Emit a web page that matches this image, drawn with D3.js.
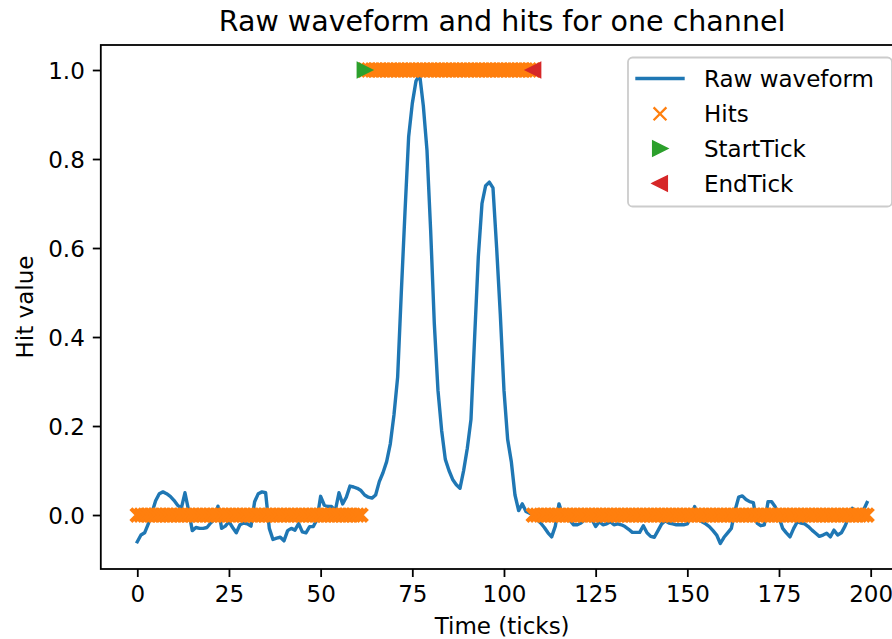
<!DOCTYPE html>
<html>
<head>
<meta charset="utf-8">
<script src="https://cdn.jsdelivr.net/npm/d3@7"></script>
<style>
  html, body { margin: 0; padding: 0; background: #fff; overflow: hidden; }
  svg { display: block; font-family: "DejaVu Sans", sans-serif; }
</style>
</head>
<body>
<svg id="chart" width="892" height="639"></svg>
<script>
// ---- Data ----
// Raw waveform, one sample per tick, ticks 0..199
const waveform = [
  -0.060, -0.045, -0.040, -0.020, 0.005, 0.032, 0.048, 0.052, 0.048, 0.042,
  0.033, 0.022, 0.015, 0.050, 0.010, -0.035, -0.028, -0.030, -0.030, -0.028,
  -0.018, -0.010, 0.020, -0.030, -0.025, -0.015, -0.028, -0.040, -0.022, -0.018,
  -0.020, -0.025, 0.030, 0.048, 0.052, 0.050, -0.030, -0.055, -0.052, -0.050,
  -0.058, -0.035, -0.030, -0.034, -0.019, -0.038, -0.040, -0.026, -0.026, -0.010,
  0.042, 0.022, 0.019, 0.019, 0.010, 0.050, 0.025, 0.040, 0.065, 0.063,
  0.060, 0.055, 0.045, 0.040, 0.038, 0.045, 0.075, 0.095, 0.120, 0.160,
  0.225, 0.310, 0.500, 0.680, 0.850, 0.925, 0.975, 0.990, 0.920, 0.820,
  0.640, 0.430, 0.280, 0.190, 0.125, 0.100, 0.080, 0.068, 0.060, 0.100,
  0.150, 0.215, 0.400, 0.580, 0.700, 0.740, 0.748, 0.735, 0.600, 0.450,
  0.280, 0.170, 0.120, 0.045, 0.010, 0.025, 0.008, 0.004, 0.000, -0.010,
  -0.018, -0.028, -0.040, -0.049, -0.025, 0.025, 0.000, -0.005, -0.012, -0.022,
  -0.022, -0.018, -0.011, -0.005, -0.010, -0.026, -0.015, -0.022, -0.020, -0.015,
  -0.022, -0.020, -0.022, -0.026, -0.032, -0.039, -0.039, -0.039, -0.024, -0.040,
  -0.048, -0.050, -0.035, -0.020, -0.013, -0.018, -0.020, -0.022, -0.022, -0.022,
  -0.020, -0.005, 0.019, -0.010, -0.015, -0.020, -0.026, -0.035, -0.045, -0.064,
  -0.050, -0.040, -0.030, 0.010, 0.040, 0.043, 0.035, 0.030, 0.028, -0.018,
  -0.024, -0.022, 0.030, 0.030, 0.018, -0.005, -0.030, -0.040, -0.049, -0.030,
  -0.015, -0.018, -0.020, -0.026, -0.034, -0.041, -0.048, -0.045, -0.041, -0.049,
  -0.034, -0.045, -0.040, -0.025, -0.005, 0.015, 0.005, -0.002, 0.010, 0.028
];
// Hits: [first tick, last tick, hit value]
const hitRanges = [
  [0, 61, 0],
  [62, 108, 1],
  [108, 199, 0]
];
const startTick = [62];
const startValue = [1];
const endTick = [108];
const endValue = [1];
const xTicks = [0, 25, 50, 75, 100, 125, 150, 175, 200];
const yTicks = [0.0, 0.2, 0.4, 0.6, 0.8, 1.0];
const legendLabels = ["Raw waveform", "Hits", "StartTick", "EndTick"];
const titleText = "Raw waveform and hits for one channel";
const xLabelText = "Time (ticks)";
const yLabelText = "Hit value";

// ---- Layout ----
const C = { blue: "#1f77b4", orange: "#ff7f0e", green: "#2ca02c", red: "#d62728" };
const FS = 23;
const plot = { left: 100.8, right: 903.5, top: 45, bottom: 569 };

const svg = d3.select("#chart");
const x = d3.scaleLinear().domain([-9.95, 208.95]).range([plot.left, plot.right]);
const y = d3.scaleLinear().domain([-0.1213, 1.0562]).range([plot.bottom, plot.top]);

const waveData = waveform.map((v, i) => ({ t: i, v }));
const hits = [];
hitRanges.forEach(([a, b, v]) => d3.range(a, b + 1).forEach(t => hits.push({ t, v })));

svg.append("clipPath").attr("id", "clip")
  .append("rect").attr("x", plot.left).attr("y", plot.top)
  .attr("width", plot.right - plot.left).attr("height", plot.bottom - plot.top);

const g = svg.append("g").attr("clip-path", "url(#clip)");

// waveform line
g.append("path")
  .datum(waveData)
  .attr("fill", "none")
  .attr("stroke", C.blue)
  .attr("stroke-width", 3.4)
  .attr("stroke-linejoin", "round")
  .attr("stroke-linecap", "square")
  .attr("d", d3.line().x(d => x(d.t)).y(d => y(d.v)));

// hit markers
const h = 6.4;
const xPath = `M${-h},${-h}L${h},${h}M${-h},${h}L${h},${-h}`;
g.append("g").selectAll("path")
  .data(hits).join("path")
  .attr("transform", d => `translate(${x(d.t)},${y(d.v)})`)
  .attr("d", xPath)
  .attr("fill", "none")
  .attr("stroke", C.orange)
  .attr("stroke-width", 4.2);

const s = 6.9;
const triRight = `M${s},0L${-s},${-s}L${-s},${s}Z`;
const triLeft = `M${-s},0L${s},${-s}L${s},${s}Z`;
g.append("g").selectAll("path")
  .data(startTick.map((t, i) => ({ t, v: startValue[i] }))).join("path")
  .attr("transform", d => `translate(${x(d.t)},${y(d.v)})`)
  .attr("d", triRight).attr("fill", C.green).attr("stroke", C.green).attr("stroke-width", 2.3)
  .attr("stroke-linejoin", "miter");
g.append("g").selectAll("path")
  .data(endTick.map((t, i) => ({ t, v: endValue[i] }))).join("path")
  .attr("transform", d => `translate(${x(d.t)},${y(d.v)})`)
  .attr("d", triLeft).attr("fill", C.red).attr("stroke", C.red).attr("stroke-width", 2.3)
  .attr("stroke-linejoin", "miter");

// axes
const xAxis = d3.axisBottom(x).tickValues(xTicks).tickSize(8).tickPadding(8).tickFormat(d3.format("d"));
const yAxis = d3.axisLeft(y).tickValues(yTicks).tickSize(8).tickPadding(8).tickFormat(d3.format(".1f"));

const gx = svg.append("g").attr("transform", `translate(0,${plot.bottom})`).call(xAxis);
const gy = svg.append("g").attr("transform", `translate(${plot.left},0)`).call(yAxis);
[gx, gy].forEach(a => {
  a.select(".domain").remove();
  a.selectAll(".tick line").attr("stroke", "#000").attr("stroke-width", 1.8);
  a.selectAll(".tick text").attr("fill", "#000").style("font-size", FS + "px")
    .style("font-family", "'DejaVu Sans', sans-serif");
});
gx.selectAll(".tick text").attr("dy", null).attr("y", 32.5);
gy.selectAll(".tick text").attr("dy", "0.36em");

// spines
svg.append("rect")
  .attr("x", plot.left).attr("y", plot.top)
  .attr("width", plot.right - plot.left).attr("height", plot.bottom - plot.top)
  .attr("fill", "none").attr("stroke", "#000").attr("stroke-width", 1.8);

// title & labels
svg.append("text").attr("x", (plot.left + plot.right) / 2).attr("y", 31)
  .attr("text-anchor", "middle").style("font-size", "28.5px").attr("fill", "#000").text(titleText);
svg.append("text").attr("x", (plot.left + plot.right) / 2).attr("y", 634)
  .attr("text-anchor", "middle").style("font-size", FS + "px").attr("fill", "#000").text(xLabelText);
svg.append("text")
  .attr("transform", `translate(33,${(plot.top + plot.bottom) / 2}) rotate(-90)`)
  .attr("text-anchor", "middle").style("font-size", FS + "px").attr("fill", "#000").text(yLabelText);

// legend
const lg = svg.append("g");
const lgBox = { x: 628, y: 57.5, w: 264, h: 149 };
lg.append("rect")
  .attr("x", lgBox.x).attr("y", lgBox.y).attr("width", lgBox.w).attr("height", lgBox.h)
  .attr("rx", 4.6).attr("ry", 4.6)
  .attr("fill", "rgba(255,255,255,0.8)").attr("stroke", "#cccccc").attr("stroke-width", 1.8);
const rowY = [78.5, 113.8, 148.6, 183.4];
const hx0 = 637, hx1 = 683, hcx = (hx0 + hx1) / 2;
const hl = 6.4;
lg.append("line").attr("x1", hx0).attr("x2", hx1).attr("y1", rowY[0]).attr("y2", rowY[0])
  .attr("stroke", C.blue).attr("stroke-width", 3.4).attr("stroke-linecap", "square");
lg.append("path").attr("transform", `translate(${hcx},${rowY[1]})`)
  .attr("d", `M${-hl},${-hl}L${hl},${hl}M${-hl},${hl}L${hl},${-hl}`)
  .attr("fill", "none").attr("stroke", C.orange).attr("stroke-width", 2.3);
lg.append("path").attr("transform", `translate(${hcx},${rowY[2]})`).attr("d", triRight)
  .attr("fill", C.green).attr("stroke", C.green).attr("stroke-width", 2.3);
lg.append("path").attr("transform", `translate(${hcx},${rowY[3]})`).attr("d", triLeft)
  .attr("fill", C.red).attr("stroke", C.red).attr("stroke-width", 2.3);
lg.selectAll("text.lab").data(legendLabels).join("text").attr("class", "lab")
  .attr("x", 704).attr("y", (d, i) => rowY[i]).attr("dy", "0.36em")
  .style("font-size", FS + "px").attr("fill", "#000").text(d => d);
</script>
</body>
</html>
